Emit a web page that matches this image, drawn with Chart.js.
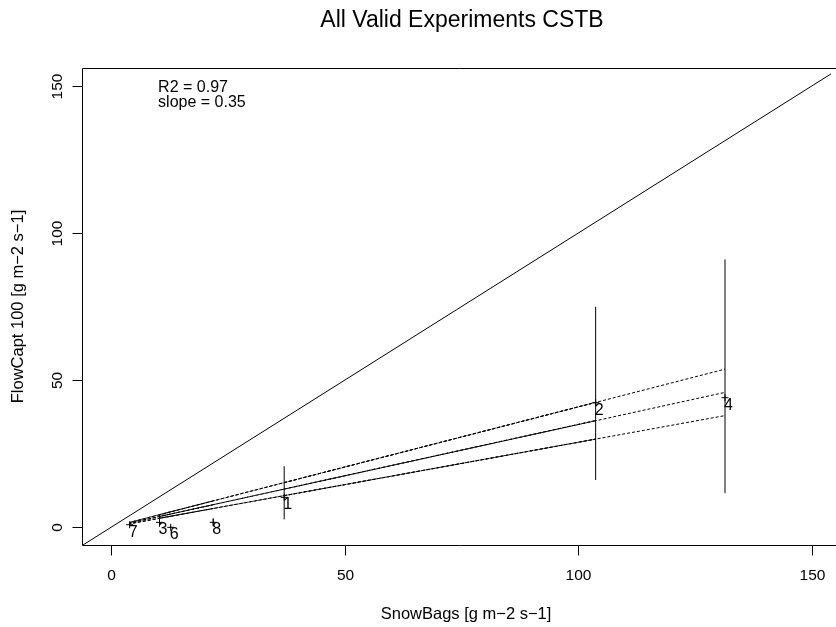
<!DOCTYPE html>
<html>
<head>
<meta charset="utf-8">
<title>All Valid Experiments CSTB</title>
<script src="https://cdn.jsdelivr.net/npm/chart.js@4.4.1/dist/chart.umd.min.js"></script>
<style>
    html, body { margin: 0; padding: 0; background: #ffffff; overflow: hidden; }
    #chartWrap { width: 836px; height: 627px; }
</style>
</head>
<body>
<div id="chartWrap"><canvas id="scatterCanvas" width="836" height="627"></canvas></div>
<script>
// experiment numbers (no 5 in the valid set, so its values are null)
const expLabels = ['1', '2', '3', '4', '5', '6', '7', '8'];
const snowBags = [37.0, 103.7, 10.3, 131.4, null, 12.7, 3.9, 21.8];
const flowCapt = [10.1, 42.3, 1.6, 44.0, null, -0.1, 0.8, 1.6];
// vertical error bars
const flowCaptLow = [2.6, 16.0, 0.1, 11.5, null, -0.4, 0.3, 0.3];
const flowCaptHigh = [20.7, 74.9, 4.1, 91.0, null, 0.3, 1.3, 3.0];
// fitted line and its band, same order as the experiments
const fitMid = [12.9, 36.2, 3.6, 45.8, null, 4.4, 1.4, 7.6];
const fitUpper = [15.1, 42.4, 4.2, 53.7, null, 5.2, 1.6, 8.9];
const fitLower = [10.7, 29.9, 3.0, 37.9, null, 3.7, 1.1, 6.3];
// 1:1 line ends
const oneToOne = [-10, 200];
// axes
const xTicks = [0, 50, 100, 150];
const yTicks = [0, 50, 100, 150];
// text in the top left corner
const statText = ['R2 = 0.97', 'slope = 0.35'];
const statX = 10;
const statY = [150, 145];

document.addEventListener('DOMContentLoaded', function() {
    const fontFamily = 'Arial, "Liberation Sans", Helvetica, sans-serif';
    Chart.defaults.font.family = fontFamily;

    function toPoints(xs, ys) {
        return xs.map((x, i) => ({ x: x, y: ys[i] }));
    }

    // one segment per experiment, broken by an empty point
    function errorBarPoints() {
        const pts = [];
        snowBags.forEach((x, i) => {
            pts.push({ x: x, y: flowCaptLow[i] });
            pts.push({ x: x, y: flowCaptHigh[i] });
            pts.push({ x: null, y: null });
        });
        return pts;
    }

    // draws the R-like box, ticks and all the text
    const baseAxes = {
        id: 'baseAxes',
        afterDraw(chart) {
            const ctx = chart.ctx;
            const area = chart.chartArea;
            const xs = chart.scales.x;
            const ys = chart.scales.y;
            const left = Math.round(area.left) + 0.5;
            const top = Math.round(area.top) + 0.5;
            const bottom = Math.round(area.bottom) + 0.5;

            ctx.save();
            ctx.strokeStyle = '#000';
            ctx.fillStyle = '#000';
            ctx.lineWidth = 1;

            // box (right side falls outside the picture)
            ctx.beginPath();
            ctx.moveTo(chart.width + 5, top);
            ctx.lineTo(left, top);
            ctx.lineTo(left, bottom);
            ctx.lineTo(chart.width + 5, bottom);
            ctx.stroke();

            // x axis
            ctx.font = '15.5px ' + fontFamily;
            ctx.textAlign = 'center';
            ctx.textBaseline = 'alphabetic';
            xTicks.forEach(v => {
                const px = Math.round(xs.getPixelForValue(v)) + 0.5;
                ctx.beginPath();
                ctx.moveTo(px, bottom);
                ctx.lineTo(px, bottom + 10);
                ctx.stroke();
                ctx.fillText(String(v), px, 580);
            });

            // y axis, labels turned like in R
            yTicks.forEach(v => {
                const py = Math.round(ys.getPixelForValue(v)) + 0.5;
                ctx.beginPath();
                ctx.moveTo(left, py);
                ctx.lineTo(left - 10, py);
                ctx.stroke();
                ctx.save();
                ctx.translate(62, py);
                ctx.rotate(-Math.PI / 2);
                ctx.fillText(String(v), 0, 0);
                ctx.restore();
            });

            // titles
            ctx.font = '23px ' + fontFamily;
            ctx.fillText('All Valid Experiments CSTB', 462, 27);
            ctx.font = '16.5px ' + fontFamily;
            ctx.fillText('SnowBags [g m\u22122 s\u22121]', 466, 619);
            ctx.save();
            ctx.translate(23, (area.top + area.bottom) / 2);
            ctx.rotate(-Math.PI / 2);
            ctx.fillText('FlowCapt 100 [g m\u22122 s\u22121]', 0, 0);
            ctx.restore();

            // R2 and slope
            ctx.font = '16px ' + fontFamily;
            ctx.textAlign = 'left';
            ctx.textBaseline = 'middle';
            statText.forEach((t, i) => {
                ctx.fillText(t, xs.getPixelForValue(statX), ys.getPixelForValue(statY[i]) + 2);
            });

            // experiment numbers next to the points
            ctx.textBaseline = 'alphabetic';
            const meta = chart.getDatasetMeta(0);
            meta.data.forEach((pt, i) => {
                if (pt.skip || flowCapt[i] === null) return;
                ctx.fillText(expLabels[i], pt.x - 1, pt.y + 12);
            });
            ctx.restore();
        }
    };

    function drawScatterChart() {
        const ctx = document.getElementById('scatterCanvas').getContext('2d');
        const chart = new Chart(ctx, {
            type: 'scatter',
            data: {
                datasets: [
                    {
                        label: 'Experiments',
                        data: toPoints(snowBags, flowCapt),
                        pointStyle: 'cross',
                        pointRadius: 3.5,
                        pointBorderColor: '#000',
                        pointBorderWidth: 1,
                        showLine: false
                    },
                    {
                        label: 'Error bars',
                        data: errorBarPoints(),
                        showLine: true,
                        spanGaps: false,
                        borderColor: '#000',
                        borderWidth: 1,
                        pointRadius: 0
                    },
                    {
                        label: '1:1',
                        data: toPoints(oneToOne, oneToOne),
                        showLine: true,
                        borderColor: '#000',
                        borderWidth: 1,
                        pointRadius: 0
                    },
                    {
                        label: 'Fit',
                        data: toPoints(snowBags, fitMid),
                        showLine: true,
                        spanGaps: false,
                        borderColor: '#000',
                        borderWidth: 1,
                        borderDash: [3, 2],
                        pointRadius: 0
                    },
                    {
                        label: 'Fit upper',
                        data: toPoints(snowBags, fitUpper),
                        showLine: true,
                        spanGaps: false,
                        borderColor: '#000',
                        borderWidth: 1,
                        borderDash: [3, 2],
                        pointRadius: 0
                    },
                    {
                        label: 'Fit lower',
                        data: toPoints(snowBags, fitLower),
                        showLine: true,
                        spanGaps: false,
                        borderColor: '#000',
                        borderWidth: 1,
                        borderDash: [3, 2],
                        pointRadius: 0
                    }
                ]
            },
            options: {
                responsive: false,
                animation: false,
                layout: {
                    padding: { left: 82, top: 68, right: 0, bottom: 82 }
                },
                scales: {
                    x: { type: 'linear', min: -6.3, max: 154.1, display: false },
                    y: { type: 'linear', min: -6.1, max: 156.1, display: false }
                },
                plugins: {
                    legend: { display: false },
                    title: { display: false },
                    tooltip: { enabled: false }
                }
            },
            plugins: [baseAxes]
        });
    }

    drawScatterChart();
});
</script>
</body>
</html>
